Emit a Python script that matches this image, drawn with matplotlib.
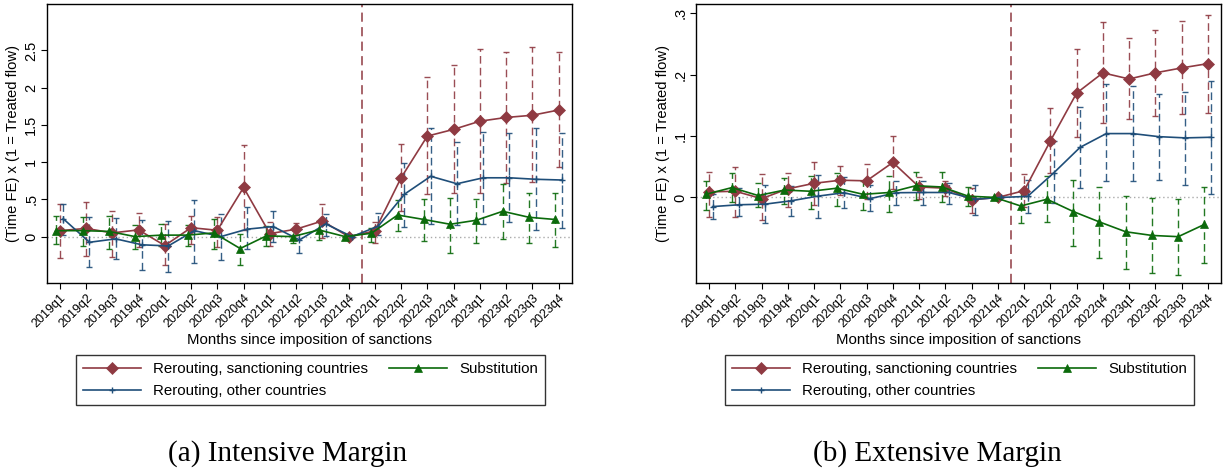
import matplotlib
matplotlib.use("Agg")
import matplotlib.pyplot as plt
import numpy as np

plt.rcParams['font.family'] = ['Liberation Sans', 'DejaVu Sans']

quarters = ['2019q1', '2019q2', '2019q3', '2019q4', '2020q1', '2020q2', '2020q3', '2020q4',
            '2021q1', '2021q2', '2021q3', '2021q4', '2022q1', '2022q2', '2022q3', '2022q4',
            '2023q1', '2023q2', '2023q3', '2023q4']

# (a) Intensive margin
int_sanc = [0.08, 0.11, 0.05, 0.09, -0.12, 0.12, 0.085, 0.66, 0.04, 0.10, 0.21, 0.0,
            0.076, 0.79, 1.35, 1.44, 1.55, 1.60, 1.63, 1.70]
int_sanc_lo = [-0.29, -0.26, -0.27, -0.14, -0.38, -0.10, -0.14, 0.09, -0.13, 0.02, -0.02, 0.0,
               -0.09, 0.34, 0.57, 0.59, 0.58, 0.72, 0.74, 0.94]
int_sanc_hi = [0.44, 0.47, 0.35, 0.32, 0.17, 0.28, 0.26, 1.23, 0.20, 0.18, 0.435, 0.0,
               0.20, 1.24, 2.14, 2.30, 2.52, 2.48, 2.54, 2.48]

int_other = [0.24, -0.076, -0.03, -0.11, -0.125, 0.08, 0.0, 0.10, 0.135, -0.045, 0.17, 0.0,
             0.14, 0.57, 0.81, 0.71, 0.79, 0.79, 0.77, 0.76]
int_other_lo = [0.02, -0.41, -0.30, -0.45, -0.47, -0.35, -0.32, -0.17, -0.07, -0.22, 0.01, 0.0,
                0.02, 0.13, 0.17, 0.157, 0.17, 0.19, 0.09, 0.11]
int_other_hi = [0.44, 0.26, 0.25, 0.22, 0.215, 0.49, 0.31, 0.40, 0.35, 0.10, 0.31, 0.0,
                0.32, 0.99, 1.46, 1.265, 1.40, 1.39, 1.46, 1.39]

int_subst = [0.08, 0.08, 0.07, 0.0, 0.02, 0.02, 0.05, -0.16, 0.01, 0.0, 0.09, 0.0,
             0.045, 0.29, 0.23, 0.166, 0.22, 0.34, 0.26, 0.23]
int_subst_lo = [-0.10, -0.13, -0.16, -0.16, -0.13, -0.12, -0.16, -0.38, -0.13, -0.08, -0.045, 0.0,
                -0.07, 0.08, -0.06, -0.22, -0.08, -0.036, -0.08, -0.14]
int_subst_hi = [0.28, 0.26, 0.28, 0.16, 0.17, 0.16, 0.23, 0.04, 0.14, 0.10, 0.21, 0.0,
                0.12, 0.49, 0.51, 0.525, 0.51, 0.70, 0.59, 0.59]

# (b) Extensive margin
ext_sanc = [0.009, 0.010, -0.002, 0.014, 0.023, 0.028, 0.027, 0.057, 0.017, 0.015, -0.004, 0.0,
            0.011, 0.092, 0.170, 0.203, 0.193, 0.203, 0.211, 0.218]
ext_sanc_lo = [-0.032, -0.032, -0.037, -0.016, -0.012, 0.004, -0.003, 0.013, -0.003, 0.002, -0.025, 0.0,
               -0.015, 0.039, 0.099, 0.121, 0.127, 0.133, 0.136, 0.138]
ext_sanc_hi = [0.042, 0.049, 0.038, 0.040, 0.057, 0.051, 0.055, 0.100, 0.034, 0.026, 0.015, 0.0,
               0.038, 0.145, 0.242, 0.286, 0.259, 0.273, 0.288, 0.298]

ext_other = [-0.015, -0.012, -0.011, -0.0055, 0.002, 0.0076, -0.002, 0.0076, 0.008, 0.008, -0.003, 0.0,
             0.0016, 0.040, 0.0815, 0.104, 0.104, 0.099, 0.097, 0.098]
ext_other_lo = [-0.036, -0.031, -0.042, -0.030, -0.034, -0.018, -0.022, -0.0125, -0.0125, -0.010, -0.028, 0.0,
                -0.026, -0.009, 0.015, 0.026, 0.026, 0.028, 0.021, 0.005]
ext_other_hi = [0.006, 0.015, 0.020, 0.018, 0.036, 0.033, 0.020, 0.027, 0.027, 0.024, 0.020, 0.0,
                0.029, 0.092, 0.148, 0.184, 0.182, 0.168, 0.171, 0.190]

ext_subst = [0.005, 0.016, 0.003, 0.012, 0.010, 0.015, 0.005, 0.008, 0.019, 0.017, 0.002, 0.0,
             -0.014, -0.003, -0.023, -0.040, -0.056, -0.062, -0.064, -0.044]
ext_subst_lo = [-0.020, -0.008, -0.016, -0.011, -0.019, -0.014, -0.021, -0.023, -0.004, -0.007, -0.014, 0.0,
                -0.042, -0.040, -0.079, -0.098, -0.117, -0.123, -0.126, -0.107]
ext_subst_hi = [0.026, 0.040, 0.024, 0.032, 0.035, 0.040, 0.027, 0.035, 0.041, 0.041, 0.017, 0.0,
                0.011, 0.035, 0.028, 0.017, 0.003, -0.001, -0.003, 0.017]

series_labels = ['Rerouting, sanctioning countries', 'Rerouting, other countries', 'Substitution']
int_ticks = [0, 0.5, 1, 1.5, 2, 2.5]
int_ticklabels = ['0', '.5', '1', '1.5', '2', '2.5']
ext_ticks = [0, 0.1, 0.2, 0.3]
ext_ticklabels = ['0', '.1', '.2', '.3']
captions = ['(a) Intensive Margin', '(b) Extensive Margin']

RED = '#8f3a42'
BLUE = '#1f4e79'
GREEN = '#0b6a0b'

W, H = 1225, 472
fig = plt.figure(figsize=(W / 100, H / 100), dpi=100)


def px_axes(x0, y0, x1, y1):
    return fig.add_axes([x0 / W, 1 - y1 / H, (x1 - x0) / W, (y1 - y0) / H])


def draw_panel(ax, data, ylim, ticks, ticklabels):
    x = np.arange(len(quarters))
    offsets = [0.0, 0.13, -0.13]
    colors = [RED, BLUE, GREEN]
    markers = ['D', '+', '^']
    msizes = [6, 5, 6]
    handles = []
    ax.axhline(0, color='#aaaaaa', lw=1.0, ls=(0, (1, 2)), zorder=1)
    ax.axvline(11.5, color=RED, lw=1.1, ls=(0, (6, 3.5)), zorder=1)
    for k, (y, lo, hi) in enumerate(data):
        y = np.asarray(y); lo = np.asarray(lo); hi = np.asarray(hi)
        xs = x + offsets[k]
        eb = ax.errorbar(xs, y, yerr=[y - lo, hi - y], fmt='none', ecolor=colors[k],
                         elinewidth=1.0, capsize=2.3, capthick=1.0, alpha=0.9, zorder=2 + k)
        for lc in eb[2]:
            lc.set_linestyle((0, (5.5, 3)))
    zorders = [6, 7, 8]
    for k, (y, lo, hi) in enumerate(data):
        xs = x + offsets[k]
        h, = ax.plot(xs, y, color=colors[k], lw=1.2, marker=markers[k], ms=msizes[k],
                     mew=1.0 if markers[k] == '+' else 0.5, mec=colors[k], mfc=colors[k],
                     zorder=zorders[k], label=series_labels[k])
        handles.append(h)
    ax.set_xlim(-0.5, len(quarters) - 0.5)
    ax.set_ylim(*ylim)
    ax.set_xticks(x)
    ax.set_xticklabels(quarters, rotation=45, ha='right', va='top', rotation_mode='anchor', fontsize=9)
    ax.set_yticks(ticks)
    ax.set_yticklabels(ticklabels, rotation=90, va='center', fontsize=10.5)
    ax.tick_params(direction='out', length=4, width=0.8, colors='black')
    ax.tick_params(axis='x', pad=2)
    ax.tick_params(axis='y', pad=2)
    for s in ax.spines.values():
        s.set_linewidth(1.0)
        s.set_color('black')
    ax.set_xlabel('Months since imposition of sanctions', fontsize=10.8, labelpad=2)
    ax.set_ylabel('(Time FE) x (1 = Treated flow)', fontsize=10.6, labelpad=3)
    return handles


ax1 = px_axes(46.7, 4.3, 571.7, 283.3)
h1 = draw_panel(ax1, [(int_sanc, int_sanc_lo, int_sanc_hi),
                      (int_other, int_other_lo, int_other_hi),
                      (int_subst, int_subst_lo, int_subst_hi)],
                (-0.627, 3.12), int_ticks, int_ticklabels)

ax2 = px_axes(696, 4.3, 1221, 283.3)
h2 = draw_panel(ax2, [(ext_sanc, ext_sanc_lo, ext_sanc_hi),
                      (ext_other, ext_other_lo, ext_other_hi),
                      (ext_subst, ext_subst_lo, ext_subst_hi)],
                (-0.140, 0.3147), ext_ticks, ext_ticklabels)

for (x0, x1), hs in [((76, 545), h1), ((725, 1194), h2)]:
    y0, y1 = 355, 403
    leg = fig.legend(hs, [h.get_label() for h in hs], ncol=2, mode='expand',
                     loc='upper left',
                     bbox_to_anchor=(x0 / W, 1 - y1 / H, (x1 - x0) / W, (y1 - y0) / H),
                     fontsize=10.8, frameon=True, fancybox=False, edgecolor='black',
                     handlelength=3.9, handletextpad=0.8, borderpad=0.45, labelspacing=0.55,
                     borderaxespad=0.0)
    leg.get_frame().set_linewidth(1.0)

for cx, txt in [(288, captions[0]), (937, captions[1])]:
    fig.text(cx / W, 1 - 454 / H, txt, ha='center', va='center', fontsize=21,
             family=['Liberation Serif', 'DejaVu Serif'])

fig.savefig('out.png', dpi=100)
